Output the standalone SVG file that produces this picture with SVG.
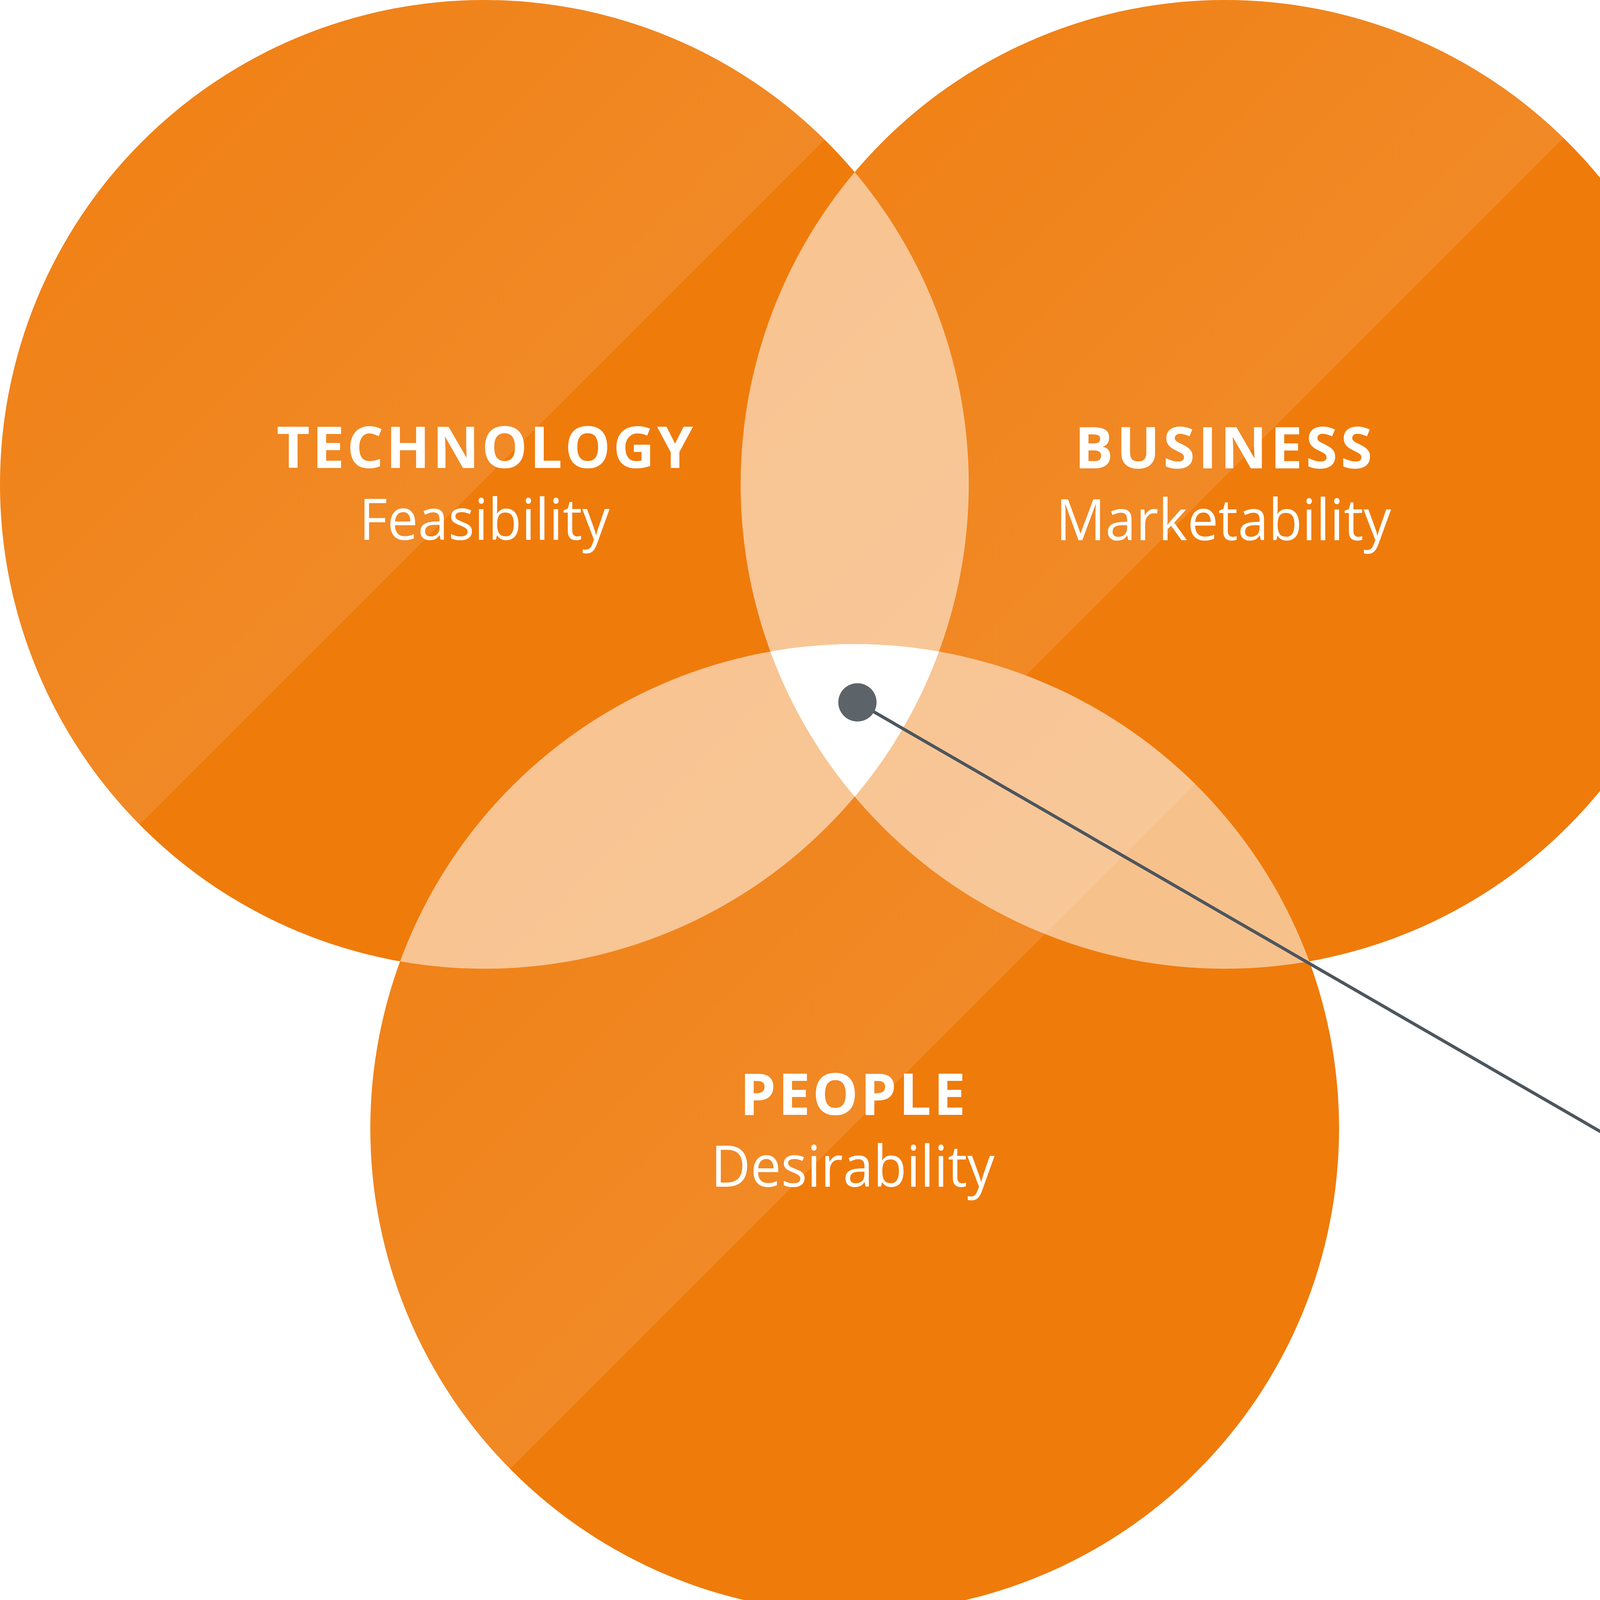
<svg xmlns="http://www.w3.org/2000/svg" width="5246" height="4129" viewBox="0 0 5246 4129">
<style>
.base{fill:#EF7B0B}
.lens{fill:#FFFFFF;fill-opacity:0.53}
.head{font-family:"Open Sans","Noto Sans","Liberation Sans",sans-serif;font-weight:700;font-size:147px;fill:#FFFFFF;text-anchor:middle}
.sub{font-family:"Open Sans","Noto Sans","Liberation Sans",sans-serif;font-weight:400;font-size:147px;fill:#FFFFFF;text-anchor:middle}
.inno{font-family:"Open Sans","Noto Sans","Liberation Sans",sans-serif;font-weight:700;font-size:147px;fill:#4D565D}
.conn{fill:none;stroke:#4D565D;stroke-width:8;stroke-linejoin:miter}
</style>
<defs>
<clipPath id="cT"><circle cx="1240" cy="1240" r="1240"/></clipPath>
<clipPath id="cB"><circle cx="3136" cy="1240" r="1240"/></clipPath>
<clipPath id="cP"><circle cx="2188" cy="2889" r="1240"/></clipPath>
<linearGradient id="gT" gradientUnits="userSpaceOnUse" x1="363" y1="363" x2="1234" y2="1234">
<stop offset="0" stop-color="#FFFFFF" stop-opacity="0.05"/>
<stop offset="1" stop-color="#FFFFFF" stop-opacity="0.11"/>
</linearGradient>
<linearGradient id="gB" gradientUnits="userSpaceOnUse" x1="2259" y1="363" x2="3126" y2="1230">
<stop offset="0" stop-color="#FFFFFF" stop-opacity="0.05"/>
<stop offset="1" stop-color="#FFFFFF" stop-opacity="0.11"/>
</linearGradient>
<linearGradient id="gP" gradientUnits="userSpaceOnUse" x1="1311" y1="2012" x2="2183" y2="2883">
<stop offset="0" stop-color="#FFFFFF" stop-opacity="0.05"/>
<stop offset="1" stop-color="#FFFFFF" stop-opacity="0.11"/>
</linearGradient>
</defs>

<g id="technology">
<circle class="base" cx="1240" cy="1240" r="1240"/>
<polygon points="-10,-10 2478,-10 -10,2478" fill="url(#gT)" clip-path="url(#cT)"/>
<text class="head" x="1241" y="1198" textLength="1066" lengthAdjust="spacing">TECHNOLOGY</text>
<text class="sub" x="1240" y="1382" textLength="641" lengthAdjust="spacingAndGlyphs">Feasibility</text>
</g>

<g id="business">
<circle class="base" cx="3136" cy="1240" r="1240"/>
<polygon points="1886,-10 4366,-10 1886,2470" fill="url(#gB)" clip-path="url(#cB)"/>
<text class="head" x="3132" y="1199" textLength="762" lengthAdjust="spacing">BUSINESS</text>
<text class="sub" x="3132" y="1383" textLength="858" lengthAdjust="spacingAndGlyphs">Marketability</text>
</g>

<g id="people">
<circle class="base" cx="2188" cy="2889" r="1240"/>
<polygon points="938,1639 3427,1639 938,4128" fill="url(#gP)" clip-path="url(#cP)"/>
<text class="head" x="2183" y="2854" textLength="578" lengthAdjust="spacing">PEOPLE</text>
<text class="sub" x="2183" y="3038" textLength="726" lengthAdjust="spacingAndGlyphs">Desirability</text>
</g>

<g id="overlaps">
<g clip-path="url(#cT)"><circle class="lens" cx="3136" cy="1240" r="1240"/></g>
<g clip-path="url(#cT)"><circle class="lens" cx="2188" cy="2889" r="1240"/></g>
<g clip-path="url(#cB)"><circle class="lens" cx="2188" cy="2889" r="1240"/></g>
<g clip-path="url(#cT)"><g clip-path="url(#cB)"><circle cx="2188" cy="2889" r="1240" fill="#FFFFFF"/></g></g>
</g>

<g id="connectors">
<polyline class="conn" points="2195,1798 4125,2913 4208,2913"/>
<circle cx="2195" cy="1798" r="49" fill="#5C646A"/>
</g>

<g id="innovation">
<text class="inno" x="4232" y="2965" textLength="1012" lengthAdjust="spacing">INNOVATION</text>
</g>
</svg>
